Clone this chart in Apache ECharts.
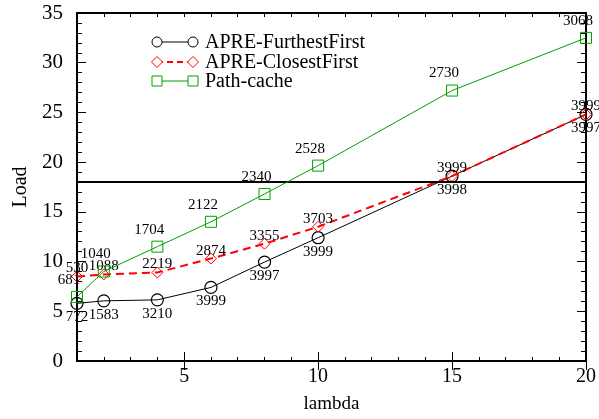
<!DOCTYPE html>
<html>
<head>
<meta charset="utf-8">
<script src="https://cdn.jsdelivr.net/npm/echarts@6/dist/echarts.min.js"></script>
<style>
  html, body { margin: 0; padding: 0; background: #fff; }
  #chart { width: 599px; height: 419px; }
</style>
</head>
<body>
<div id="chart"></div>
<script>
// lambda values shared by all three curves
const lambdas = [1, 2, 4, 6, 8, 10, 15, 20];

// Load per lambda
const furthestLoad = [5.8, 6.05, 6.15, 7.4, 9.95, 12.4, 18.6, 24.8];
const closestLoad  = [8.5, 8.7, 8.9, 10.3, 11.8, 13.5, 18.6, 24.8];
const pathLoad     = [6.45, 9.0, 11.5, 14.0, 16.8, 19.65, 27.2, 32.5];

// value annotations at each point
const furthestNotes = ['772', '1583', '3210', '3999', '3997', '3999', '3998', '3997'];
const closestNotes  = ['530', '1088', '2219', '2874', '3355', '3703', '3999', '3999'];
const pathNotes     = ['681', '1040', '1704', '2122', '2340', '2528', '2730', '3068'];

// threshold line
const threshold = 18;

const seriesNames = ['APRE-FurthestFirst', 'APRE-ClosestFirst', 'Path-cache'];
const xMajorTicks = [5, 10, 15, 20];

const FONT = 'Liberation Serif';
const pairs = (ys) => lambdas.map((x, i) => [x, ys[i]]);

const chart = echarts.init(document.getElementById('chart'), null, { renderer: 'canvas' });

const axisLine = { show: true, onZero: false, lineStyle: { color: '#000', width: 2 } };
const noLabel = { show: false };
const noSplit = { show: false };

function xAxisPair(position) {
  const bottom = position === 'bottom';
  return [
    {
      type: 'value', position, min: 1, max: 20, interval: 1,
      axisLine,
      axisTick: { show: true, inside: true, length: 4, lineStyle: { color: '#000', width: 1 } },
      axisLabel: bottom ? {
        show: true, color: '#000', fontFamily: FONT, fontSize: 20, margin: 6,
        formatter: (v) => (xMajorTicks.includes(v) ? String(v) : '')
      } : noLabel,
      splitLine: noSplit,
      name: bottom ? 'lambda' : '',
      nameLocation: 'middle', nameGap: 34,
      nameTextStyle: { color: '#000', fontFamily: FONT, fontSize: 19 }
    },
    {
      type: 'value', position, min: 1, max: 20,
      axisLine: { show: false },
      axisTick: { show: true, inside: true, length: 9, customValues: xMajorTicks, lineStyle: { color: '#000', width: 1 } },
      axisLabel: noLabel,
      splitLine: noSplit
    }
  ];
}

function yAxis(position) {
  const left = position === 'left';
  return {
    type: 'value', position, min: 0, max: 35, interval: 5,
    axisLine,
    axisTick: { show: true, inside: true, length: 9, lineStyle: { color: '#000', width: 1 } },
    minorTick: { show: true, splitNumber: 5, length: 5, lineStyle: { color: '#000', width: 1 } },
    axisLabel: left ? { show: true, color: '#000', fontFamily: FONT, fontSize: 21, margin: 14 } : noLabel,
    splitLine: noSplit,
    minorSplitLine: noSplit,
    name: left ? 'Load' : '',
    nameLocation: 'middle', nameGap: 45, nameRotate: 90,
    nameTextStyle: { color: '#000', fontFamily: FONT, fontSize: 20 }
  };
}

function noteLabel(notes, offset) {
  return {
    show: true,
    position: 'inside',
    offset,
    align: 'center',
    verticalAlign: 'middle',
    color: '#000',
    fontFamily: FONT,
    fontSize: 15,
    formatter: (p) => notes[p.dataIndex]
  };
}

const legendRows = [
  { y: 42, color: '#000', dash: null, marker: 'circle' },
  { y: 62, color: '#ff0000', dash: [6, 4], marker: 'diamond' },
  { y: 81, color: '#00a000', dash: null, marker: 'square' }
];

function legendMarker(kind, cx, cy, color) {
  const style = { fill: '#fff', stroke: color, lineWidth: 1 };
  if (kind === 'circle') return { type: 'circle', shape: { cx, cy, r: 5 }, style, z: 101 };
  if (kind === 'diamond') return {
    type: 'polygon', shape: { points: [[cx, cy - 5.5], [cx + 5.5, cy], [cx, cy + 5.5], [cx - 5.5, cy]] }, style, z: 101
  };
  return { type: 'rect', shape: { x: cx - 5, y: cy - 5, width: 10, height: 10 }, style, z: 101 };
}

const legendGraphics = [];
legendRows.forEach((row, i) => {
  legendGraphics.push({
    type: 'line', shape: { x1: 157, y1: row.y, x2: 193, y2: row.y },
    style: { stroke: row.color, lineWidth: row.dash ? 1.8 : 1, lineDash: row.dash || null }, z: 100
  });
  legendGraphics.push(legendMarker(row.marker, 157, row.y, row.color));
  legendGraphics.push(legendMarker(row.marker, 193, row.y, row.color));
  legendGraphics.push({
    type: 'text', x: 205, y: row.y + 1,
    style: { text: seriesNames[i], fill: '#000', font: `20px "${FONT}"`, verticalAlign: 'middle' }, z: 100
  });
});

chart.setOption({
  animation: false,
  backgroundColor: '#fff',
  grid: { left: 77, right: 10, top: 13, bottom: 48, containLabel: false },
  xAxis: [...xAxisPair('bottom'), ...xAxisPair('top')],
  yAxis: [yAxis('left'), yAxis('right')],
  graphic: legendGraphics,
  series: [
    {
      name: seriesNames[0], type: 'line', xAxisIndex: 0, yAxisIndex: 0,
      data: pairs(furthestLoad),
      symbol: 'circle', symbolSize: 12,
      lineStyle: { color: '#000', width: 1 },
      itemStyle: { color: 'rgba(255,255,255,0)', borderColor: '#000', borderWidth: 1.2 },
      label: noteLabel(furthestNotes, [0, 14]),
      clip: false, z: 3,
      markLine: {
        silent: true, symbol: 'none',
        label: { show: false },
        lineStyle: { color: '#000', width: 2, type: 'solid' },
        data: [{ yAxis: threshold }]
      }
    },
    {
      name: seriesNames[1], type: 'line', xAxisIndex: 0, yAxisIndex: 0,
      data: pairs(closestLoad),
      symbol: 'diamond', symbolSize: 11,
      lineStyle: { color: '#ff0000', width: 2, type: [8, 5] },
      itemStyle: { color: 'rgba(255,255,255,0)', borderColor: '#ff0000', borderWidth: 1 },
      label: noteLabel(closestNotes, [0, -8]),
      clip: false, z: 4
    },
    {
      name: seriesNames[2], type: 'line', xAxisIndex: 0, yAxisIndex: 0,
      data: pairs(pathLoad),
      symbol: 'rect', symbolSize: 11,
      lineStyle: { color: '#00a000', width: 1 },
      itemStyle: { color: 'rgba(255,255,255,0)', borderColor: '#00a000', borderWidth: 1 },
      label: noteLabel(pathNotes, [-8, -17]),
      clip: false, z: 5
    }
  ]
});
</script>
</body>
</html>
